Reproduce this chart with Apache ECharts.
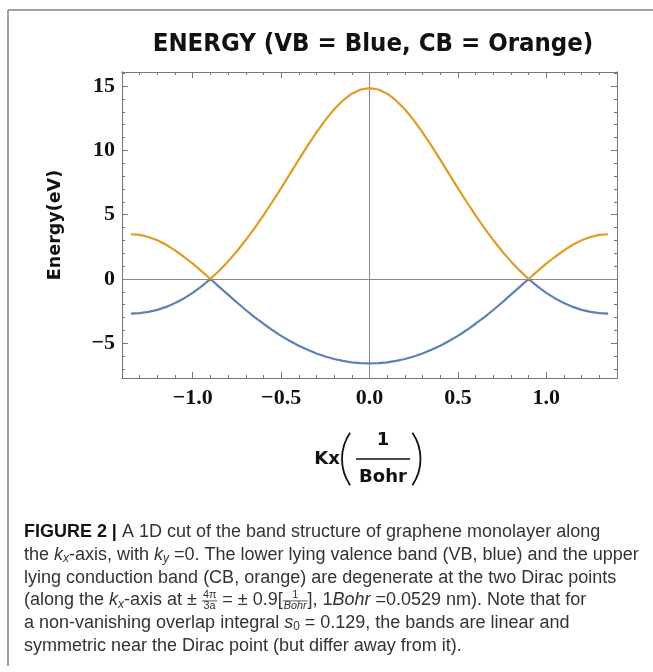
<!DOCTYPE html>
<html>
<head>
<meta charset="utf-8">
<script src="https://cdn.jsdelivr.net/npm/echarts@6/dist/echarts.min.js"></script>
<style>
    html, body { margin: 0; padding: 0; background: #fff; }
    #main { width: 653px; height: 672px; }
</style>
</head>
<body>
<div id="main"></div>
<script>
// band data (kx in 1/Bohr, energy in eV)
var kx = [-1.35, -1.30, -1.25, -1.20, -1.15, -1.10, -1.05, -1.00, -0.95, -0.90,
          -0.85, -0.80, -0.75, -0.70, -0.65, -0.60, -0.55, -0.50, -0.45, -0.40,
          -0.35, -0.30, -0.25, -0.20, -0.15, -0.10, -0.05, 0.00, 0.05, 0.10,
          0.15, 0.20, 0.25, 0.30, 0.35, 0.40, 0.45, 0.50, 0.55, 0.60,
          0.65, 0.70, 0.75, 0.80, 0.85, 0.90, 0.95, 1.00, 1.05, 1.10,
          1.15, 1.20, 1.25, 1.30, 1.35];
var cbEnergy = [3.48, 3.43, 3.27, 3.01, 2.66, 2.23, 1.73, 1.19, 0.61, 0.00,
                0.65, 1.37, 2.16, 3.03, 3.96, 4.95, 5.99, 7.07, 8.18, 9.28,
                10.37, 11.41, 12.36, 13.20, 13.89, 14.41, 14.74, 14.84, 14.74, 14.41,
                13.89, 13.20, 12.36, 11.41, 10.37, 9.28, 8.18, 7.07, 5.99, 4.95,
                3.96, 3.03, 2.16, 1.37, 0.65, 0.00, 0.61, 1.19, 1.73, 2.23,
                2.66, 3.01, 3.27, 3.43, 3.48];
var vbEnergy = [-2.69, -2.65, -2.56, -2.40, -2.17, -1.87, -1.51, -1.08, -0.58, 0.00,
                -0.61, -1.22, -1.83, -2.41, -2.96, -3.48, -3.97, -4.42, -4.82, -5.19,
                -5.51, -5.79, -6.03, -6.22, -6.37, -6.48, -6.54, -6.56, -6.54, -6.48,
                -6.37, -6.22, -6.03, -5.79, -5.51, -5.19, -4.82, -4.42, -3.97, -3.48,
                -2.96, -2.41, -1.83, -1.22, -0.61, 0.00, -0.58, -1.08, -1.51, -1.87,
                -2.17, -2.40, -2.56, -2.65, -2.69];

var xMajorTicks = [-1.0, -0.5, 0.0, 0.5, 1.0];
var xMinorTicks = [-1.4, -1.3, -1.2, -1.1, -1.0, -0.9, -0.8, -0.7, -0.6, -0.5, -0.4, -0.3, -0.2, -0.1,
                   0.0, 0.1, 0.2, 0.3, 0.4, 0.5, 0.6, 0.7, 0.8, 0.9, 1.0, 1.1, 1.2, 1.3, 1.4];
var yMajorTicks = [-5, 0, 5, 10, 15];
var yMinorTicks = [-7, -6, -5, -4, -3, -2, -1, 0, 1, 2, 3, 4, 5, 6, 7, 8, 9, 10, 11, 12, 13, 14, 15, 16];

var frameColor = '#777';
var tickFont = {fontFamily: '"Liberation Serif", serif', fontWeight: 'bold', fontSize: 22, color: '#111'};

function minusFmt(digits) {
    return function (v) {
        var s = digits ? Math.abs(v).toFixed(digits) : String(Math.abs(v));
        return (v < 0 ? '\u2212' : '') + s;
    };
}

function frameAxis(isX, position, ticks, tickLen, label) {
    var ax = {
        type: 'value',
        position: position,
        min: isX ? -1.4 : -7.7,
        max: isX ? 1.4 : 16.1,
        axisLine: {show: true, onZero: false, lineStyle: {color: frameColor, width: 1}},
        axisTick: {show: true, inside: true, length: tickLen, customValues: ticks,
                   lineStyle: {color: frameColor, width: 1}},
        axisLabel: {show: false},
        splitLine: {show: false}
    };
    if (label) {
        ax.axisLabel = Object.assign({show: true, customValues: ticks}, tickFont, label);
    }
    return ax;
}

var xAxes = [
    frameAxis(true, 'bottom', xMajorTicks, 6, {margin: 9, formatter: minusFmt(1)}),
    frameAxis(true, 'bottom', xMinorTicks, 3),
    frameAxis(true, 'top', xMajorTicks, 6),
    frameAxis(true, 'top', xMinorTicks, 3)
];
var yAxes = [
    frameAxis(false, 'left', yMajorTicks, 6, {margin: 7, formatter: minusFmt(0)}),
    frameAxis(false, 'left', yMinorTicks, 3),
    frameAxis(false, 'right', yMajorTicks, 6),
    frameAxis(false, 'right', yMinorTicks, 3)
];
yAxes[0].name = 'Energy(eV)';
yAxes[0].nameLocation = 'middle';
yAxes[0].nameRotate = 90;
yAxes[0].nameGap = 58;
yAxes[0].nameTextStyle = {fontFamily: '"DejaVu Sans", sans-serif', fontWeight: 'bold', fontSize: 17.5, color: '#111'};

// ---- caption (figure legend text under the plot) ----
var ctx = document.createElement('canvas').getContext('2d');
var capFamily = '"Liberation Sans", Arial, sans-serif';
function textWidth(str, font) { ctx.font = font; return ctx.measureText(str).width; }

var capLines = [
    [{t: 'FIGURE 2', k: 'b'}, {t: ' | ', k: 'b'}, {t: 'A 1D cut of the band structure of graphene monolayer along'}],
    [{t: 'the '}, {t: 'k', k: 'i'}, {t: 'x', k: 'si'}, {t: '-axis, with '}, {t: 'k', k: 'i'}, {t: 'y', k: 'si'},
     {t: ' =0. The lower lying valence band (VB, blue) and the upper'}],
    [{t: 'lying conduction band (CB, orange) are degenerate at the two Dirac points'}],
    [{t: '(along the '}, {t: 'k', k: 'i'}, {t: 'x', k: 'si'}, {t: '-axis at \u00b1 '}, {frac: ['4\u03c0', '3a']},
     {t: ' = \u00b1 0.9['}, {frac: ['1', 'Bohr'], it: true}, {t: '], 1'}, {t: 'Bohr', k: 'i'},
     {t: ' =0.0529 nm). Note that for'}],
    [{t: 'a non-vanishing overlap integral '}, {t: 's', k: 'i'}, {t: '0', k: 's'},
     {t: ' = 0.129, the bands are linear and'}],
    [{t: 'symmetric near the Dirac point (but differ away from it).'}]
];

var capSize = 16;
capSize = capSize * 620 / textWidth('the kx-axis, with ky =0. The lower lying valence band (VB, blue) and the upper', capSize + 'px ' + capFamily);

function capFont(k, size) {
    if (k === 'b') return 'bold ' + size + 'px ' + capFamily;
    if (k === 'i') return 'italic ' + size + 'px ' + capFamily;
    if (k === 'si') return 'italic ' + (size * 0.66).toFixed(1) + 'px ' + capFamily;
    if (k === 's') return (size * 0.66).toFixed(1) + 'px ' + capFamily;
    return size.toFixed(1) + 'px ' + capFamily;
}

var capGraphics = [];
var capTop = 532, capStep = 22.8, capLeft = 24;
capLines.forEach(function (line, li) {
    var x = capLeft, y = capTop + li * capStep;
    line.forEach(function (seg) {
        if (seg.frac) {
            var ff = (capSize * 0.6).toFixed(1) + 'px ' + capFamily;
            var fd = (seg.it ? 'italic ' : '') + ff;
            var w = Math.max(textWidth(seg.frac[0], ff), textWidth(seg.frac[1], fd)) + 2;
            capGraphics.push({type: 'text', x: x + w / 2, y: y - 5,
                style: {text: seg.frac[0], font: ff, fill: '#333', align: 'center', verticalAlign: 'middle'}});
            capGraphics.push({type: 'text', x: x + w / 2, y: y + 6,
                style: {text: seg.frac[1], font: fd, fill: '#333', align: 'center', verticalAlign: 'middle'}});
            capGraphics.push({type: 'line', shape: {x1: x, y1: y + 0.5, x2: x + w, y2: y + 0.5},
                style: {stroke: '#333', lineWidth: 0.8}});
            x += w;
            return;
        }
        var k = seg.k || 'n';
        var f = capFont(k, capSize);
        var sub = (k === 'si' || k === 's');
        capGraphics.push({type: 'text', x: x, y: y + (sub ? 4 : 0),
            style: {text: seg.t, font: f, fill: k === 'b' ? '#111' : '#333', verticalAlign: 'middle'}});
        x += textWidth(seg.t, f);
    });
});

// ---- x axis name: Kx(1/Bohr) ----
var nameFont = '"DejaVu Sans", sans-serif';
var xNameGraphics = [
    {type: 'text', x: 327, y: 459, style: {text: 'Kx', font: 'bold 18px ' + nameFont, fill: '#111', align: 'center', verticalAlign: 'middle'}},
    {type: 'arc', shape: {cx: 388.3, cy: 459, r: 46.3, startAngle: Math.PI - 0.6, endAngle: Math.PI + 0.6},
     style: {stroke: '#111', lineWidth: 1.8, fill: null}},
    {type: 'text', x: 383, y: 440, style: {text: '1', font: 'bold 18px ' + nameFont, fill: '#111', align: 'center', verticalAlign: 'middle'}},
    {type: 'line', shape: {x1: 356, y1: 459, x2: 410, y2: 459}, style: {stroke: '#111', lineWidth: 1.6}},
    {type: 'text', x: 383, y: 477, style: {text: 'Bohr', font: 'bold 18px ' + nameFont, fill: '#111', align: 'center', verticalAlign: 'middle'}},
    {type: 'arc', shape: {cx: 374.2, cy: 459, r: 46.3, startAngle: -0.6, endAngle: 0.6},
     style: {stroke: '#111', lineWidth: 1.8, fill: null}}
];

// figure border (top and left edges visible)
var borderGraphics = [
    {type: 'line', shape: {x1: 8, y1: 10, x2: 653, y2: 10}, style: {stroke: '#808080', lineWidth: 1.5}},
    {type: 'line', shape: {x1: 8, y1: 10, x2: 8, y2: 666}, style: {stroke: '#808080', lineWidth: 1.5}}
];

var myChart = echarts.init(document.getElementById('main'));

var option = {
    animation: false,
    backgroundColor: '#fff',
    title: {
        text: 'ENERGY (VB = Blue, CB = Orange)',
        left: 368,
        top: 26,
        textAlign: 'center',
        textStyle: {fontFamily: '"Liberation Sans Narrow", "DejaVu Sans Condensed", sans-serif',
                    fontWeight: 'bold', fontSize: 25.5, color: '#111'}
    },
    grid: {left: 122, top: 72, width: 495, height: 306},
    xAxis: xAxes,
    yAxis: yAxes,
    graphic: borderGraphics.concat(xNameGraphics, capGraphics),
    series: [
        {
            name: 'VB',
            type: 'line',
            data: kx.map(function (k, i) { return [k, vbEnergy[i]]; }),
            showSymbol: false,
            lineStyle: {color: '#5E81B5', width: 2.2},
            z: 3,
            markLine: {
                silent: true,
                symbol: 'none',
                z: 1,
                label: {show: false},
                lineStyle: {color: '#888', width: 1, type: 'solid'},
                data: [{yAxis: 0}, {xAxis: 0}]
            }
        },
        {
            name: 'CB',
            type: 'line',
            data: kx.map(function (k, i) { return [k, cbEnergy[i]]; }),
            showSymbol: false,
            lineStyle: {color: '#E19C24', width: 2.2},
            z: 3
        }
    ]
};
myChart.setOption(option);
</script>
</body>
</html>
